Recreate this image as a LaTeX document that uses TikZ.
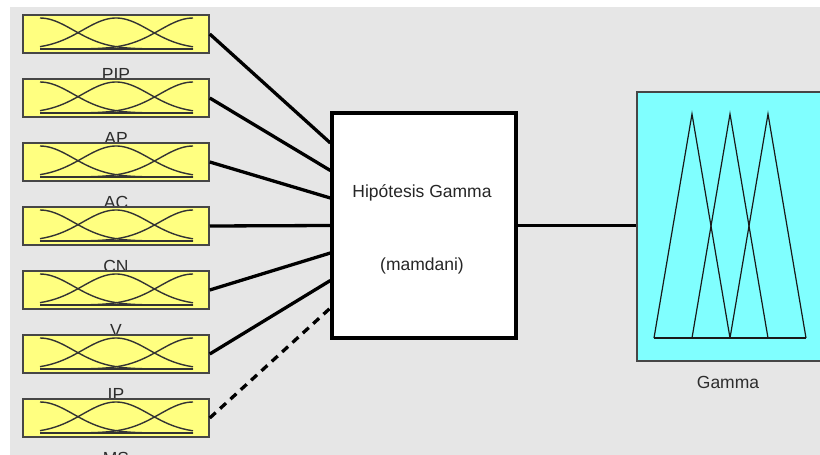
\documentclass[tikz,border=0pt]{standalone}
\usepackage{fontspec}
\setmainfont{Liberation Sans}
\usetikzlibrary{positioning}
\definecolor{bggray}{RGB}{230,230,230}
\definecolor{mfyellow}{RGB}{255,255,128}
\definecolor{mfcyan}{RGB}{128,255,255}
\definecolor{edgegray}{RGB}{70,70,70}
\definecolor{labelgray}{RGB}{45,45,45}
\tikzset{
  inbox/.style={draw=edgegray, line width=1.5pt, fill=mfyellow, minimum width=186pt, minimum height=38pt, inner sep=0pt},
  rulebox/.style={draw=black, line width=3.3pt, fill=white, minimum width=184pt, minimum height=225pt, inner sep=0pt},
  outbox/.style={draw=edgegray, line width=1.5pt, fill=mfcyan, minimum width=190pt, minimum height=269pt, inner sep=0pt},
  varlabel/.style={anchor=base, text=labelgray, inner sep=0pt, font=\fontsize{17.5}{21}\selectfont},
  mfcurve/.style={draw=black!80, line width=1.4pt},
  tri/.style={draw=black!90, line width=1.2pt, line join=miter},
  wire/.style={line width=3.3pt, black},
}
\begin{document}
\begin{tikzpicture}[x=1pt, y=-1pt]
  \clip (0,0) rectangle (820,455);
  \fill[bggray] (10,7) rectangle (820,455);
  % input variables
  \foreach \name [count=\i] in {PIP,AP,AC,CN,V,IP,MS} {
    \pgfmathsetmacro{\yc}{34+64*(\i-1)}
    \node[varlabel] (lab\i) at (116,\yc+46) {\name};
    \node[inbox] (in\i) at (116,\yc) {};
    \begin{scope}[shift={(in\i.center)}]
      \draw[mfcurve] plot[domain=-76:77, samples=50] (\x,{15-31*exp(-0.5*((\x+76)/33.5)^2)});
      \draw[mfcurve] plot[domain=-76:77, samples=50] (\x,{15-31*exp(-0.5*((\x)/33.5)^2)});
      \draw[mfcurve] plot[domain=-76:77, samples=50] (\x,{15-31*exp(-0.5*((\x-77)/33.5)^2)});
      \draw[mfcurve] (-76,15) -- (77,15);
    \end{scope}
  }
  % rule block and output
  \node[rulebox] (rule) at (424,225.5) {};
  \node[outbox] (out) at (732,226.5) {};
  \foreach \p in {692,730,768}
    \draw[tri] (\p-38,338) -- (\p,114) -- (\p+38,338);
  \draw[tri] (654,338) -- (806,338);
  \node[varlabel] (outlab) at (728,388) {Gamma};
  % connectors
  \foreach \i in {1,...,6}
    \draw[wire] (in\i.east) -- ([yshift={(4-\i)*27.5pt}]rule.west);
  \draw[wire, dash pattern=on 8pt off 6pt] (in7.east) -- ([yshift=-82.5pt]rule.west);
  \draw[wire] (rule.east) -- (rule.east -| out.west);
  \node[varlabel, text=black!85] (hyp) at (422,197) {Hipótesis Gamma};
  \node[varlabel, text=black!85] (mam) at (422,270) {(mamdani)};
\end{tikzpicture}
\end{document}
